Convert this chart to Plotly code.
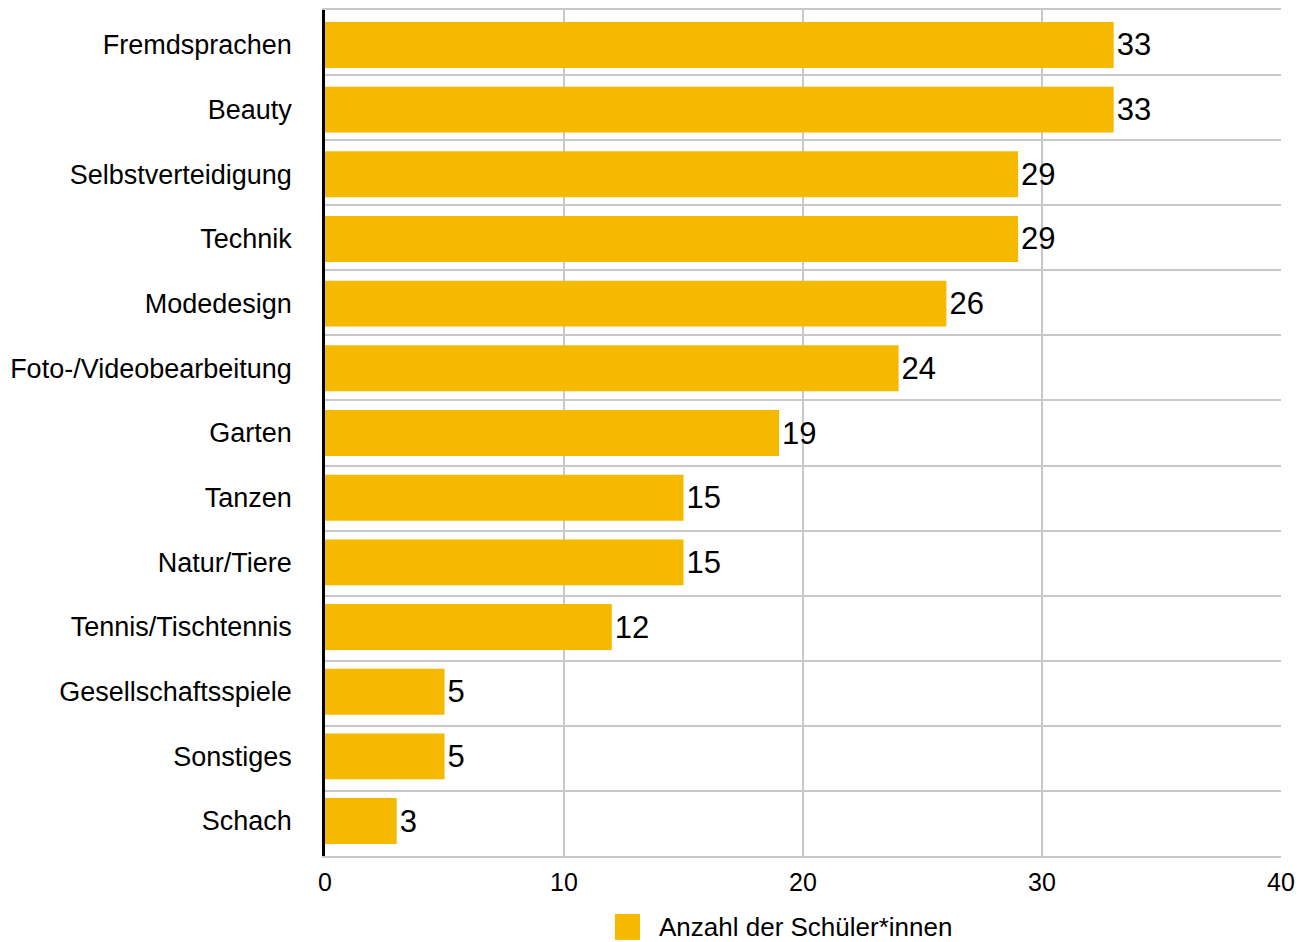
import plotly.graph_objects as go

categories = ["Fremdsprachen", "Beauty", "Selbstverteidigung", "Technik", "Modedesign",
              "Foto-/Videobearbeitung", "Garten", "Tanzen", "Natur/Tiere",
              "Tennis/Tischtennis", "Gesellschaftsspiele", "Sonstiges", "Schach"]
values = [33, 33, 29, 29, 26, 24, 19, 15, 15, 12, 5, 5, 3]
series_name = "Anzahl der Schüler*innen"
x_ticks = [0, 10, 20, 30, 40]

FONT = "Liberation Sans, Arial, Helvetica, sans-serif"
BAR = "#F5B900"
GRID = "#c8c8c8"

positions = list(range(len(categories)))
n = len(categories)
# bars are spaced slightly tighter than the row separators in the original
pad = 0.541
row_step = (n - 1 + 2 * pad) / n

fig = go.Figure()
fig.add_trace(go.Bar(
    x=values, y=positions, orientation="h",
    marker=dict(color=BAR, line=dict(width=0)),
    text=[str(v) for v in values], textposition="outside",
    textfont=dict(size=31, color="black", family=FONT),
    cliponaxis=False, name=series_name, showlegend=False,
    hoverinfo="skip",
))

fig.update_layout(
    width=1312, height=942,
    margin=dict(l=325, r=31, t=10, b=86),
    paper_bgcolor="white", plot_bgcolor="white",
    font=dict(family=FONT, size=26, color="black"),
    bargap=0.29,
    showlegend=False,
)
fig.update_yaxes(
    range=[n - 1 + pad, -pad],
    tickvals=positions, ticktext=categories,
    showgrid=False, zeroline=False,
    minor=dict(tick0=-pad, dtick=row_step, showgrid=True,
               gridcolor=GRID, gridwidth=1.5, ticks=""),
    showline=True, linecolor="black", linewidth=2.5,
    ticks="", ticklabelstandoff=25, automargin=False,
    tickfont=dict(size=27, color="black"),
)
fig.update_xaxes(
    range=[0, 40], tickvals=x_ticks, ticktext=[str(t) for t in x_ticks],
    showgrid=True, gridcolor=GRID, gridwidth=1.5, zeroline=False,
    ticks="", automargin=False, ticklabelstandoff=3,
    tickfont=dict(size=25, color="black"),
    showline=True, linecolor=GRID, linewidth=1.5, mirror=True,
)

# custom legend
fig.add_shape(type="rect", xref="paper", yref="paper",
              x0=0.3033, x1=0.3295, y0=-0.0992, y1=-0.0685,
              fillcolor=BAR, line=dict(width=0))
fig.add_annotation(xref="paper", yref="paper", x=0.3473, y=-0.0838,
                   xanchor="left", yanchor="middle", showarrow=False,
                   text=series_name, font=dict(size=26, color="black", family=FONT))

fig.write_html("out.html", config={"displayModeBar": False},
               post_script="document.body.style.margin='0';document.body.style.overflow='hidden';")
